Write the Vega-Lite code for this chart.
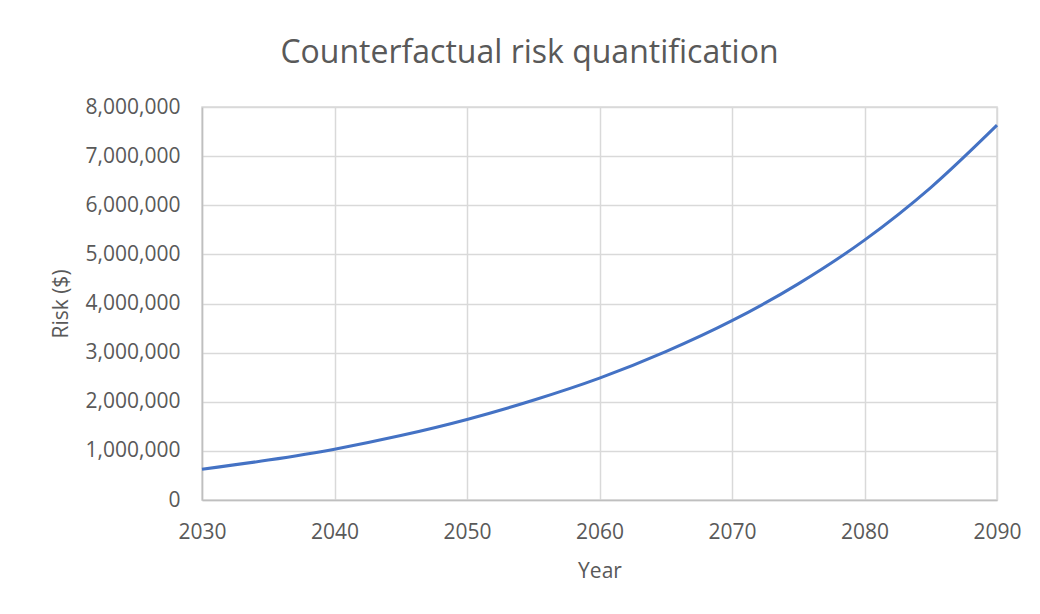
{
  "$schema": "https://vega.github.io/schema/vega-lite/v6.json",
  "width": 795,
  "height": 393,
  "autosize": {"type": "none"},
  "padding": {"left": 202, "top": 107, "right": 43, "bottom": 114},
  "background": "white",
  "title": {
    "text": "Counterfactual risk quantification",
    "font": "Open Sans",
    "fontSize": 32,
    "fontWeight": "normal",
    "color": "#595959",
    "anchor": "middle",
    "dx": -70,
    "offset": 26
  },
  "data": {
    "values": [
      {"year": 2030, "risk": 625000},
      {"year": 2035, "risk": 813000},
      {"year": 2040, "risk": 1035000},
      {"year": 2045, "risk": 1312000},
      {"year": 2050, "risk": 1640000},
      {"year": 2055, "risk": 2030000},
      {"year": 2060, "risk": 2480000},
      {"year": 2065, "risk": 3020000},
      {"year": 2070, "risk": 3650000},
      {"year": 2075, "risk": 4400000},
      {"year": 2080, "risk": 5290000},
      {"year": 2085, "risk": 6360000},
      {"year": 2090, "risk": 7630000}
    ]
  },
  "mark": {"type": "line", "color": "#4472C4", "strokeWidth": 3, "interpolate": "monotone"},
  "encoding": {
    "x": {
      "field": "year",
      "type": "quantitative",
      "title": "Year",
      "scale": {"domain": [2030, 2090], "nice": false, "zero": false},
      "axis": {
        "values": [2030, 2040, 2050, 2060, 2070, 2080, 2090],
        "format": "d",
        "ticks": false,
        "grid": true,
        "gridColor": "#d9d9d9",
        "gridWidth": 1.5,
        "domainColor": "#bfbfbf",
        "domainWidth": 1.5,
        "labelFont": "Open Sans",
        "labelFontSize": 21,
        "labelColor": "#595959",
        "labelPadding": 21,
        "labelFlush": false,
        "titleFont": "Open Sans",
        "titleFontSize": 21,
        "titleFontWeight": "normal",
        "titleColor": "#595959",
        "titlePadding": 18
      }
    },
    "y": {
      "field": "risk",
      "type": "quantitative",
      "title": "Risk ($)",
      "scale": {"domain": [0, 8000000], "nice": false},
      "axis": {
        "values": [0, 1000000, 2000000, 3000000, 4000000, 5000000, 6000000, 7000000, 8000000],
        "format": ",d",
        "ticks": false,
        "grid": true,
        "gridColor": "#d9d9d9",
        "gridWidth": 1.5,
        "domainColor": "#bfbfbf",
        "domainWidth": 1.5,
        "labelFont": "Open Sans",
        "labelFontSize": 21,
        "labelColor": "#595959",
        "labelPadding": 22,
        "labelFlush": false,
        "titleFont": "Open Sans",
        "titleFontSize": 21,
        "titleFontWeight": "normal",
        "titleColor": "#595959",
        "titlePadding": 14
      }
    }
  },
  "config": {
    "view": {"stroke": "#d9d9d9", "strokeWidth": 1.5}
  }
}
